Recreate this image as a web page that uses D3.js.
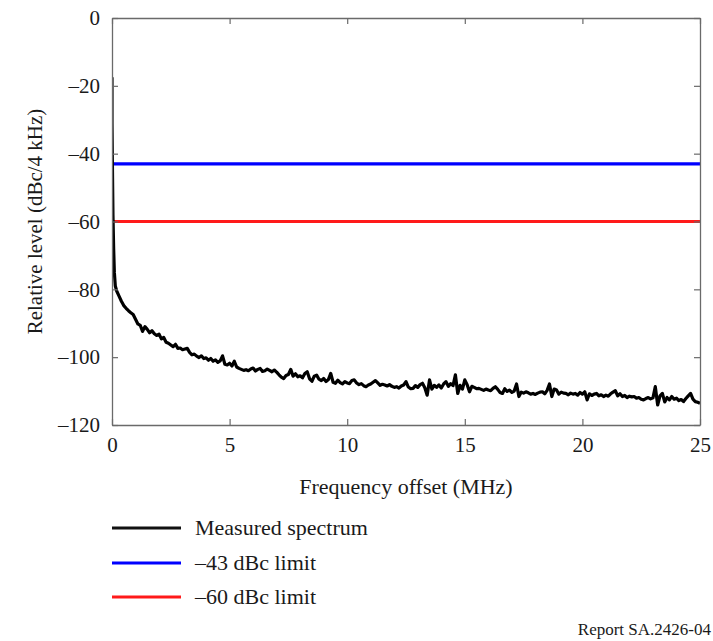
<!DOCTYPE html>
<html>
<head>
<meta charset="utf-8">
<script src="https://cdn.jsdelivr.net/npm/d3@7"></script>
<style>
  html, body { margin: 0; padding: 0; background: #ffffff; }
  svg { display: block; }
  svg text { font-family: "Liberation Serif", "Times New Roman", Times, serif !important; fill: #1a1a1a; }
</style>
</head>
<body>
<script>
// ---- Data ----
const xTicks = [0, 5, 10, 15, 20, 25];
const yTicks = [0, -20, -40, -60, -80, -100, -120];

// Close-in part of the measured spectrum (MHz, dBc/4 kHz)
const nearFreq  = [0, 0, 0.02, 0.04, 0.07, 0.1, 0.14, 0.2];
const nearLevel = [-17.5, -31, -45, -58, -68, -75, -79, -80.5];

// Rest of the measured spectrum, sampled every 0.1 MHz from 0.3 MHz
const gridStart = 0.3, gridStep = 0.1;
const gridLevel = [
  -82, -83.5, -84.8, -85.6, -86.3, -86.9, -87.4, -88.8, -90.2, -90.6,
  -92.4, -91, -91.8, -92.8, -92.2, -93.1, -93.6, -93.2, -94.6, -94.2,
  -95.6, -95.9, -96.4, -96.9, -96.2, -97.4, -97.3, -97.8, -97.6, -97.4,
  -98.6, -99.3, -99.1, -99.7, -100.1, -99.6, -100.4, -100.2, -100.9, -100.4,
  -101.2, -100.8, -101.5, -101.1, -99.6, -102.1, -102.3, -101.8, -102.6, -101.2,
  -102.9, -103.3, -103.6, -103.9, -103.7, -104, -103.5, -103.2, -104.1, -103.6,
  -103.3, -104.2, -104, -103.5, -103.9, -104.3, -103.8, -104.4, -105.2, -105.9,
  -106.3, -105.4, -105.1, -103.6, -105.6, -104.9, -105.8, -105.5, -106.1, -104.8,
  -104.3, -106.4, -107.1, -105.6, -105.3, -106.5, -106.9, -106.3, -107.2, -106.6,
  -104.8, -107.4, -107.7, -106.8, -107.5, -107.9, -107.2, -107.6, -107.8, -106.9,
  -106.7, -107.6, -108.1, -107.8, -108.4, -108.7, -108.2, -107.9, -107.4, -106.9,
  -107.6, -108.3, -108.0, -108.2, -108.5, -108.1, -108.6, -108.9, -108.7, -109.1,
  -108.5, -108.2, -107.2, -108.8, -109.3, -109.2, -108.4, -108.9, -108.1, -107.7,
  -109.0, -111.2, -106.7, -109.4, -108.3, -108.9, -108.2, -109.1, -107.9, -107.2,
  -108.6, -107.8, -108.4, -105.2, -110.7, -108.3, -109.4, -106.7, -108.1, -110.2,
  -108.6, -108.9, -109.3, -109.2, -109.5, -109.8, -109.4, -109.7, -109.9, -109.2,
  -108.7, -109.5, -110.4, -110.7, -109.3, -110.1, -109.7, -110.4, -110.0, -107.9,
  -111.6, -110.3, -110.6, -110.2, -110.5, -110.9, -110.7, -111.0, -110.6, -110.3,
  -110.2, -110.8, -109.8, -107.9, -111.6, -109.4, -109.7, -110.9, -110.3, -110.6,
  -110.7, -111.1, -110.6, -110.9, -110.7, -111.2, -110.4, -110.9, -110.2, -112.6,
  -110.8, -111.3, -110.9, -110.7, -111.4, -111.1, -111.6, -111.2, -111.5, -110.8,
  -110.3, -109.9, -111.4, -110.8, -111.6, -111.3, -111.9, -111.5, -111.7, -111.6,
  -112.1, -111.9, -112.4, -112.6, -112.2, -111.9, -112.3, -112.0, -108.7, -114.1,
  -111.4, -110.7, -113.2, -111.9, -112.6, -111.6, -112.4, -112.1, -112.8, -112.5,
  -113.1, -112.2, -111.4, -110.7, -112.4, -113.1, -113.3, -113.6
];

const limitLevels = [-43, -60];
const limitColors = ["#0000ff", "#ff1a1a"];
const legendLabels = ["Measured spectrum", "\u201343 dBc limit", "\u201360 dBc limit"];
const legendColors = ["#111111", "#0000ff", "#ff1a1a"];

// ---- Build series ----
const spectrum = nearFreq.map((f, i) => ({ f, v: nearLevel[i] }))
  .concat(gridLevel.map((v, i) => ({ f: +(gridStart + i * gridStep).toFixed(2), v })));

// ---- Layout ----
const W = 713, H = 641;
const m = { left: 112, right: 700, top: 18, bottom: 425 };
const FONT = '"Liberation Serif", "Times New Roman", Times, serif';

const svg = d3.select("body").append("svg").attr("width", W).attr("height", H)
  .attr("font-family", FONT);

const x = d3.scaleLinear().domain([0, 25]).range([m.left, m.right]);
const y = d3.scaleLinear().domain([-120, 0]).range([m.bottom, m.top]);

const fmt = d => d < 0 ? "\u2013" + Math.abs(d) : String(d);
const axisColor = "#6a6a6a";

// Data lines (clipped)
svg.append("clipPath").attr("id", "clip").append("rect")
  .attr("x", m.left).attr("y", m.top)
  .attr("width", m.right - m.left).attr("height", m.bottom - m.top);

const gData = svg.append("g").attr("clip-path", "url(#clip)");

limitLevels.forEach((lv, i) => {
  gData.append("line")
    .attr("x1", x(0)).attr("x2", x(25))
    .attr("y1", y(lv)).attr("y2", y(lv))
    .attr("stroke", limitColors[i]).attr("stroke-width", 3.2);
});

gData.append("path")
  .datum(spectrum)
  .attr("fill", "none")
  .attr("stroke", "#000")
  .attr("stroke-width", 3.2)
  .attr("stroke-linejoin", "round")
  .attr("d", d3.line().x(d => x(d.f)).y(d => y(d.v)));

// Axes: inward ticks on all four sides
const tickLen = 6;
const styleAxis = g => {
  g.attr("font-family", FONT);
  g.select(".domain").attr("stroke", axisColor).attr("stroke-width", 1.3);
  g.selectAll(".tick line").attr("stroke", axisColor).attr("stroke-width", 1.2);
};

svg.append("g").attr("transform", `translate(0,${m.bottom})`)
  .call(d3.axisBottom(x).tickValues(xTicks).tickFormat(fmt).tickSizeInner(-tickLen).tickSizeOuter(0).tickPadding(12))
  .call(styleAxis)
  .call(g => g.selectAll(".tick text").attr("font-size", 21).attr("fill", "#1a1a1a"));

svg.append("g").attr("transform", `translate(0,${m.top})`)
  .call(d3.axisTop(x).tickValues(xTicks).tickFormat("").tickSizeInner(-tickLen).tickSizeOuter(0))
  .call(styleAxis);

svg.append("g").attr("transform", `translate(${m.left},0)`)
  .call(d3.axisLeft(y).tickValues(yTicks).tickFormat(fmt).tickSizeInner(-tickLen).tickSizeOuter(0).tickPadding(12))
  .call(styleAxis)
  .call(g => g.selectAll(".tick text").attr("font-size", 21).attr("fill", "#1a1a1a"));

svg.append("g").attr("transform", `translate(${m.right},0)`)
  .call(d3.axisRight(y).tickValues(yTicks).tickFormat("").tickSizeInner(-tickLen).tickSizeOuter(0))
  .call(styleAxis);

// Axis titles
svg.append("text")
  .attr("x", (m.left + m.right) / 2).attr("y", 494)
  .attr("text-anchor", "middle").attr("font-size", 22)
  .text("Frequency offset (MHz)");

svg.append("text")
  .attr("transform", `translate(42,${(m.top + m.bottom) / 2}) rotate(-90)`)
  .attr("text-anchor", "middle").attr("font-size", 21)
  .text("Relative level (dBc/4 kHz)");

// Legend
const legY = [528, 563, 597];
legendLabels.forEach((lab, i) => {
  svg.append("line")
    .attr("x1", 112).attr("x2", 181)
    .attr("y1", legY[i]).attr("y2", legY[i])
    .attr("stroke", legendColors[i]).attr("stroke-width", 3);
  svg.append("text")
    .attr("x", 195).attr("y", legY[i]).attr("dy", "0.33em")
    .attr("font-size", 22)
    .text(lab);
});

// Footer
svg.append("text")
  .attr("x", 711).attr("y", 635)
  .attr("text-anchor", "end")
  .attr("font-size", 17)
  .text("Report SA.2426-04");
</script>
</body>
</html>
